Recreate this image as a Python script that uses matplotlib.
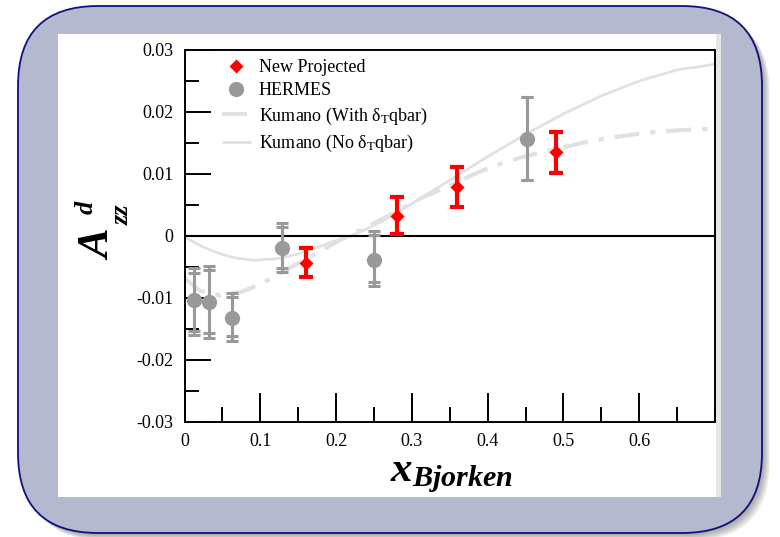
import matplotlib
matplotlib.use("Agg")
import matplotlib.pyplot as plt
from matplotlib.patches import FancyBboxPatch, Rectangle
from matplotlib.ticker import MultipleLocator

plt.rcParams['font.family'] = ['Liberation Serif', 'DejaVu Serif']
plt.rcParams['mathtext.fontset'] = 'custom'
plt.rcParams['mathtext.rm'] = 'Liberation Serif'
plt.rcParams['mathtext.it'] = 'Liberation Serif:italic'
plt.rcParams['mathtext.bf'] = 'Liberation Serif:bold'
plt.rcParams['mathtext.bfit'] = 'Liberation Serif:bold:italic'

# ---------------- data ----------------
new_x = [0.16, 0.28, 0.36, 0.49]
new_y = [-0.0043, 0.0033, 0.0079, 0.0135]
new_err = [0.0023, 0.0030, 0.0032, 0.0033]

hermes_x = [0.012, 0.032, 0.063, 0.129, 0.250, 0.452]
hermes_y = [-0.0103, -0.0106, -0.0132, -0.0019, -0.0039, 0.0156]
hermes_tot_lo = [0.0057, 0.0058, 0.0037, 0.0039, 0.0042, 0.0066]
hermes_tot_hi = [0.0051, 0.0058, 0.0040, 0.0040, 0.0047, 0.0068]
hermes_stat_lo = [0.0050, 0.0050, 0.0030, 0.0032, 0.0035, 0.0066]
hermes_stat_hi = [0.0044, 0.0051, 0.0033, 0.0033, 0.0040, 0.0068]

with_x = [0.0, 0.02, 0.047, 0.075, 0.10, 0.125, 0.153, 0.18, 0.206, 0.233, 0.259,
          0.285, 0.312, 0.34, 0.365, 0.39, 0.418, 0.445, 0.471, 0.50, 0.524, 0.55,
          0.577, 0.60, 0.63, 0.66, 0.696]
with_y = [-0.0068, -0.0088, -0.0096, -0.0090, -0.0078, -0.0061, -0.0042, -0.0024, -0.0006,
          0.0010, 0.0026, 0.0043, 0.0061, 0.0076, 0.0090, 0.0104, 0.0117, 0.0127, 0.0135,
          0.0143, 0.0150, 0.0156, 0.0161, 0.0165, 0.0169, 0.0171, 0.0173]

no_x = [0.0, 0.025, 0.05, 0.07, 0.09, 0.12, 0.15, 0.18, 0.21, 0.22, 0.26, 0.30, 0.35,
        0.40, 0.45, 0.50, 0.55, 0.60, 0.65, 0.70]
no_y = [-0.0002, -0.0018, -0.0030, -0.0036, -0.0039, -0.0037, -0.0029, -0.0016, -0.0003,
        0.0000, 0.0023, 0.0052, 0.0090, 0.0128, 0.0164, 0.0197, 0.0226, 0.0250, 0.0268,
        0.0277]

x_ticks = [0, 0.1, 0.2, 0.3, 0.4, 0.5, 0.6]
x_tick_labels = ['0', '0.1', '0.2', '0.3', '0.4', '0.5', '0.6']
y_ticks = [-0.03, -0.02, -0.01, 0, 0.01, 0.02, 0.03]
y_tick_labels = ['-0.03', '-0.02', '-0.01', '0', '0.01', '0.02', '0.03']

# ---------------- figure & decorative frame ----------------
W, H = 780, 537
fig = plt.figure(figsize=(W / 100, H / 100), dpi=100)
fig.patch.set_facecolor('white')
tr = fig.dpi_scale_trans

fx0, fx1, fy0, fy1 = 18, 762, 4, 531
rad = 80
# shadow
for i in range(1, 9):
    sh = FancyBboxPatch(((fx0 + i) / 100, (fy0 - i) / 100), (fx1 - fx0) / 100, (fy1 - fy0) / 100,
                        boxstyle="round,pad=0,rounding_size=%f" % (rad / 100),
                        transform=tr, facecolor='#404040', edgecolor='none',
                        alpha=0.07, zorder=-12)
    fig.patches.append(sh)
frame = FancyBboxPatch((fx0 / 100, fy0 / 100), (fx1 - fx0) / 100, (fy1 - fy0) / 100,
                       boxstyle="round,pad=0,rounding_size=%f" % (rad / 100),
                       transform=tr, facecolor='#b4b9cf', edgecolor='#10107e',
                       linewidth=1.3, zorder=-10)
fig.patches.append(frame)
inner = Rectangle((58 / 100, 40 / 100), (721 - 58) / 100, (503 - 40) / 100, transform=tr,
                  facecolor='white', edgecolor='none', zorder=-9)
fig.patches.append(inner)
strip = Rectangle((716 / 100, 40 / 100), 5 / 100, (503 - 40) / 100, transform=tr,
                  facecolor='#e6e6e6', edgecolor='none', zorder=-8)
fig.patches.append(strip)

# ---------------- axes ----------------
ax = fig.add_axes([184.5 / W, (H - 422) / H, (715 - 184.5) / W, (422 - 50) / H])
ax.set_facecolor('white')
ax.set_xlim(0, 0.7)
ax.set_ylim(-0.03, 0.03)

curve_col = '#e1e1e1'
ax.plot(no_x, no_y, color=curve_col, lw=2.0, solid_capstyle='butt', zorder=1,
        label=r'Kumano (No δ$_\mathrm{T}$qbar)')
ax.plot(with_x, with_y, color=curve_col, lw=3.0, dashes=(6, 2.6, 1.3, 2.6), zorder=1,
        label=r'Kumano (With δ$_\mathrm{T}$qbar)')

ax.axhline(0, color='black', lw=1.5, zorder=2)

gray = '#999999'
ax.errorbar(hermes_x, hermes_y, yerr=[hermes_tot_lo, hermes_tot_hi], fmt='none',
            ecolor=gray, elinewidth=2.2, capsize=4, capthick=2.2, zorder=3)
ax.errorbar(hermes_x, hermes_y, yerr=[hermes_stat_lo, hermes_stat_hi], fmt='none',
            ecolor=gray, elinewidth=2.2, capsize=4, capthick=2.2, zorder=3)
ax.plot(hermes_x, hermes_y, 'o', color=gray, ms=11, mec='none', zorder=4, label='HERMES')

red = '#ff0000'
ax.errorbar(new_x, new_y, yerr=new_err, fmt='none', ecolor=red, elinewidth=3,
            capsize=5, capthick=3, zorder=5)
ax.plot(new_x, new_y, 'D', color=red, ms=7.5, mec='none', zorder=6, label='New Projected')

# ticks
ax.set_xticks(x_ticks)
ax.set_xticklabels(x_tick_labels)
ax.set_yticks(y_ticks)
ax.set_yticklabels(y_tick_labels)
ax.xaxis.set_minor_locator(MultipleLocator(0.05))
ax.yaxis.set_minor_locator(MultipleLocator(0.005))
ax.tick_params(axis='x', which='major', direction='in', length=21, width=1.4,
               labelsize=13, pad=8, top=False, bottom=True)
ax.tick_params(axis='x', which='minor', direction='in', length=11, width=1.4,
               top=False, bottom=True)
ax.tick_params(axis='y', which='major', direction='in', length=19, width=1.4,
               labelsize=13, pad=8, left=True, right=False)
ax.tick_params(axis='y', which='minor', direction='in', length=10, width=1.4,
               left=True, right=False)
for s in ax.spines.values():
    s.set_linewidth(1.4)
    s.set_color('black')

# legend
handles, labels = ax.get_legend_handles_labels()
order = [3, 2, 1, 0]
leg = ax.legend([handles[i] for i in order], [labels[i] for i in order],
                loc='upper left', bbox_to_anchor=(0.05, 1.005), frameon=False,
                fontsize=13, handlelength=1.6, handletextpad=0.45,
                labelspacing=0.35, borderaxespad=0.2)

# axis labels (y label built from pieces: A, subscript zz, superscript d)
lab = dict(rotation=90, ha='center', va='center', fontweight='bold', fontstyle='italic')
fig.text(99 / W, (H - 245) / H, 'A', fontsize=32, **lab)
fig.text(122 / W, (H - 215) / H, 'zz', fontsize=19, **lab)
fig.text(86 / W, (H - 207) / H, 'd', fontsize=19, **lab)
fig.text(452 / W, (H - 476) / H, r'$\mathbfit{x}_{\mathbfit{Bjorken}}$',
         ha='center', va='center', fontsize=31)

fig.savefig('out.png', dpi=100, facecolor=fig.get_facecolor())
